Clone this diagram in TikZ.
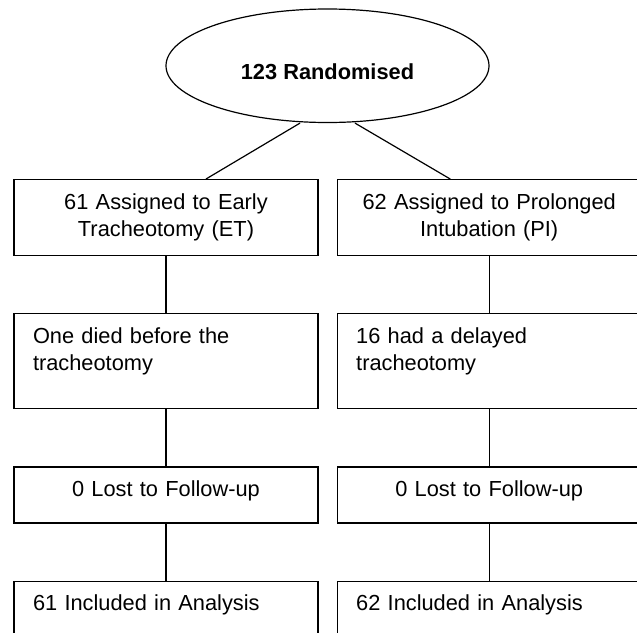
\documentclass[tikz,border=0pt]{standalone}
\usepackage{fontspec}
\setmainfont{Liberation Sans}
\usetikzlibrary{positioning,shapes.geometric}
\begin{document}
\begin{tikzpicture}[
  node distance=28.5pt and 9pt,
  every node/.style={font=\fontsize{10.9}{13.5}\selectfont},
  box/.style={draw, line width=0.6pt, text width=133pt, inner xsep=9.5pt, inner ysep=0pt, text height=14.8pt},
  link/.style={line width=0.6pt}
]
\useasboundingbox (0,0) rectangle (318.5pt,-316pt);
\node[draw, ellipse, line width=0.6pt, minimum width=161.5pt, minimum height=56.75pt, inner sep=0pt,
  text height=14pt, text depth=0pt, font=\fontsize{10.9}{13.5}\selectfont\bfseries] (rand) at (163.75pt,-32.875pt) {123 Randomised};
\node[box, align=center, text depth=23.2pt, anchor=north] (et) at (83pt,-89.5pt) {61 Assigned to Early\\Tracheotomy (ET)};
\node[box, align=center, text depth=23.2pt, right=of et] (pi) {62 Assigned to Prolonged\\Intubation (PI)};
\node[box, align=left, text depth=32.7pt, below=of et] (etdied) {One died before the\\tracheotomy};
\node[box, align=left, text depth=32.7pt, below=of pi] (pidelay) {16 had a delayed\\tracheotomy};
\node[box, align=center, text depth=13.2pt, below=of etdied] (etlost) {0 Lost to Follow-up};
\node[box, align=center, text depth=13.2pt, below=of pidelay] (pilost) {0 Lost to Follow-up};
\node[box, align=left, text depth=15pt, below=of etlost] (etanal) {61 Included in Analysis};
\node[box, align=left, text depth=15pt, below=of pilost] (pianal) {62 Included in Analysis};
\draw[link] ([xshift=-13.75pt]rand.south) -- ([xshift=20pt]et.north);
\draw[link] ([xshift=13.75pt]rand.south) -- ([xshift=-19.5pt]pi.north);
\draw[link] (et) -- (etdied);
\draw[link] (etdied) -- (etlost);
\draw[link] (etlost) -- (etanal);
\draw[link] (pi) -- (pidelay);
\draw[link] (pidelay) -- (pilost);
\draw[link] (pilost) -- (pianal);
\end{tikzpicture}
\end{document}
